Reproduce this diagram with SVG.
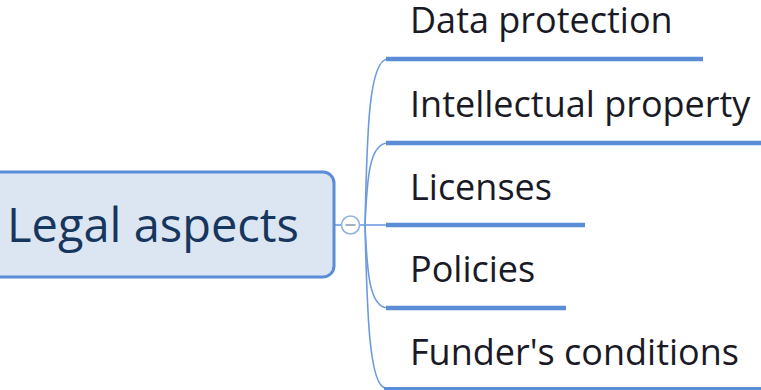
<svg xmlns="http://www.w3.org/2000/svg" width="761" height="390" viewBox="0 0 761 390">
<style>
.branch{fill:none;stroke:#5b8dd7;stroke-width:4.5;stroke-linecap:butt}
.curve{fill:none;stroke:#6e9be0;stroke-width:1.6}
.lbl{font-family:"Open Sans","Noto Sans",sans-serif;font-size:36px;fill:#1a1a26}
.root{font-family:"Open Sans","Noto Sans",sans-serif;font-size:47px;fill:#17365d}
</style>
<rect width="761" height="390" fill="#ffffff"/>
<g id="connectors">
<line x1="335" y1="225" x2="341" y2="225" class="curve"/>
<line x1="360" y1="225" x2="386" y2="225" class="curve"/>
<path class="curve" d="M365,225 C367,130 369,59 388,59"/>
<path class="curve" d="M365,225 C367,180 369,143 388,143"/>
<path class="curve" d="M365,225 C367,270 369,308 388,308"/>
<path class="curve" d="M365,225 C367,310 369,388 386,388"/>
</g>
<g id="root">
<rect x="-12" y="172" width="346" height="105" rx="11" fill="#dce6f2" stroke="#5b8dd7" stroke-width="3"/>
<text class="root" x="7" y="242">Legal aspects</text>
<circle cx="350.5" cy="225" r="9" fill="#ffffff" stroke="#8fb2e6" stroke-width="1.6"/>
<line x1="345.5" y1="225" x2="355.5" y2="225" stroke="#8d9ab0" stroke-width="1.6"/>
</g>
<g id="data-protection">
<line class="branch" x1="386" y1="59" x2="703" y2="59"/>
<text class="lbl" x="410" y="33">Data protection</text>
</g>
<g id="intellectual-property">
<line class="branch" x1="386" y1="143" x2="761" y2="143"/>
<text class="lbl" x="410" y="117">Intellectual property</text>
</g>
<g id="licenses">
<line class="branch" x1="386" y1="225" x2="585" y2="225"/>
<text class="lbl" x="410" y="200">Licenses</text>
</g>
<g id="policies">
<line class="branch" x1="386" y1="308" x2="566" y2="308"/>
<text class="lbl" x="410" y="282">Policies</text>
</g>
<g id="funders-conditions">
<line x1="384" y1="388.5" x2="761" y2="388.5" stroke="#5b8dd7" stroke-width="3"/>
<text class="lbl" x="410" y="365">Funder's conditions</text>
</g>
</svg>
